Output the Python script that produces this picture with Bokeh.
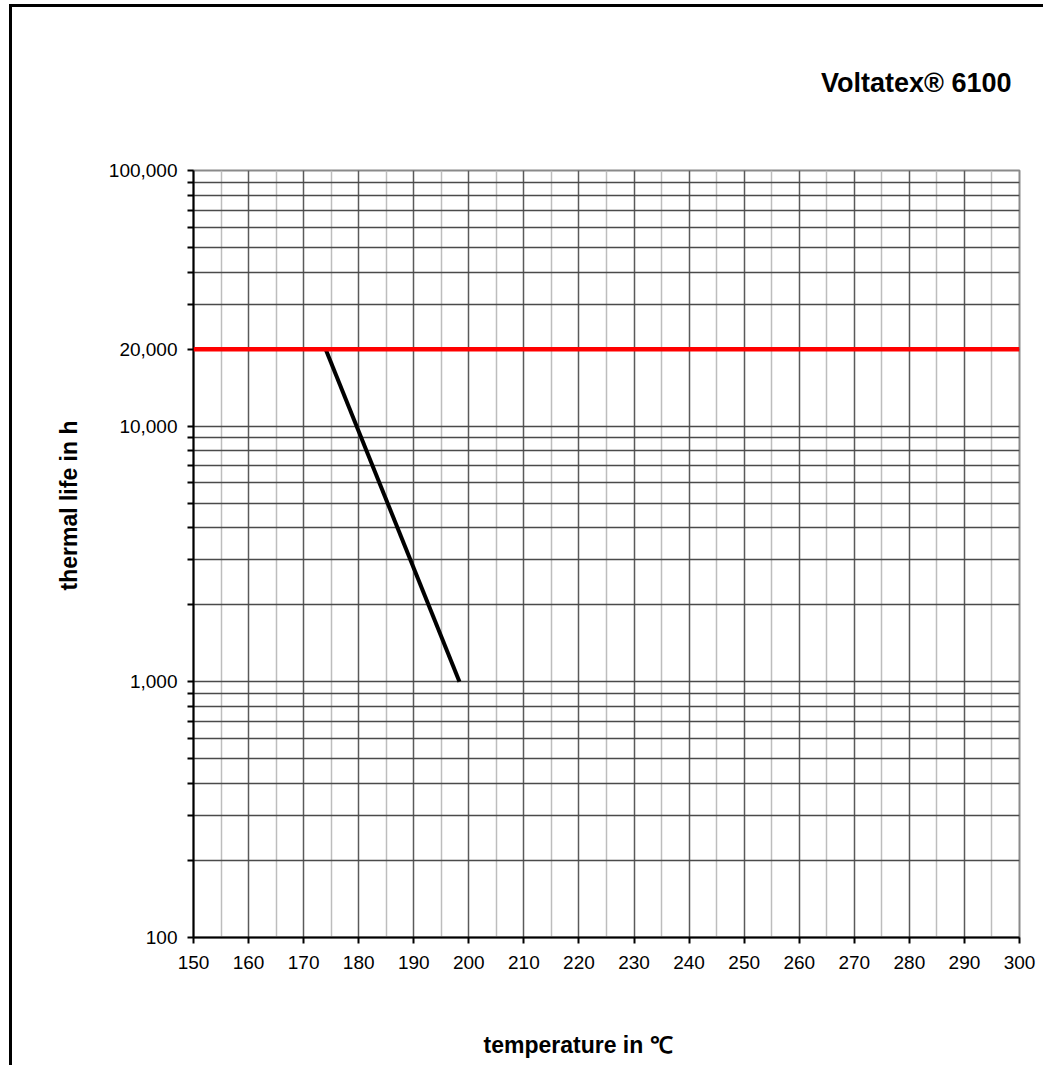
import math
from bokeh.plotting import figure
from bokeh.models import Range1d, FixedTicker, CustomJSTickFormatter, Span, Title
from bokeh.embed import file_html
from bokeh.resources import INLINE

# ---- data ----
temperature = [174.0, 198.3]          # degC
thermal_life = [20000, 1000]          # h
threshold_life = 20000                # h (red reference line)
x_ticks = list(range(150, 301, 10))
x_minor = list(range(155, 300, 10))
y_grid = [m * 10 ** e for e in (2, 3, 4) for m in range(1, 10)] + [100000]
y_label_vals = [100, 1000, 10000, 20000, 100000]
y_label_text = ["100", "1,000", "10,000", "20,000", "100,000"]

# ---- geometry (page px) ----
ML, MT, BORDER = 9, 4, 3
FL, FT, FW, FH = 193, 170, 826, 767
X0, X1, Y0, Y1 = 150, 300, 100, 100000
FONT = "Liberation Sans"

p = figure(
    x_range=Range1d(X0, X1), y_range=Range1d(Y0, Y1), y_axis_type="log",
    frame_width=FW, frame_height=FH,
    output_backend="svg", toolbar_location=None,
)
p.min_border_left = FL - ML - BORDER
p.min_border_top = FT - MT - BORDER
p.min_border_right = 24
p.min_border_bottom = 128
p.styles = {
    "margin-left": f"{ML}px", "margin-top": f"{MT}px",
    "border-left": f"{BORDER}px solid black", "border-top": f"{BORDER}px solid black",
}
p.background_fill_color = "white"
p.border_fill_color = "white"
p.outline_line_color = "#8a8a8a"
p.outline_line_width = 2

# grids
p.xgrid.ticker = FixedTicker(ticks=x_ticks, minor_ticks=x_minor)
p.xgrid.grid_line_color = "#5a5a5a"
p.xgrid.grid_line_width = 1.5
p.xgrid.minor_grid_line_color = "#bdbdbd"
p.xgrid.minor_grid_line_width = 1.5
p.ygrid.ticker = FixedTicker(ticks=y_grid)
p.ygrid.grid_line_color = "#4a4a4a"
p.ygrid.grid_line_width = 1.5

# axes
for ax in (p.xaxis[0], p.yaxis[0]):
    ax.axis_line_color = "black"
    ax.axis_line_width = 2
    ax.major_tick_line_color = "black"
    ax.major_tick_line_width = 2
    ax.major_tick_out = 6
    ax.major_tick_in = 0
    ax.minor_tick_out = 0
    ax.minor_tick_in = 0
    ax.minor_tick_line_color = None
    ax.major_label_text_font = FONT
    ax.major_label_text_font_size = "19px"
    ax.major_label_text_color = "black"

p.xaxis.ticker = FixedTicker(ticks=x_ticks)
p.xaxis.major_label_standoff = 12
p.yaxis.ticker = FixedTicker(ticks=y_grid)
p.yaxis.major_label_standoff = 10
p.yaxis.formatter = CustomJSTickFormatter(
    args=dict(vals=y_label_vals, labs=y_label_text),
    code="""
const k = Math.round(tick);
for (let i = 0; i < vals.length; i++) { if (Math.abs(vals[i] - k) < 1) return labs[i]; }
return '';
""")

# data lines
p.line(temperature, thermal_life, line_color="black", line_width=4)
p.add_layout(Span(location=threshold_life, dimension="width", line_color="#ff0000", line_width=4.5))

def spacer(side, gap):
    # invisible title that only reserves space between the frame and a text title
    p.add_layout(Title(text="\u200b", standoff=gap, text_font_size="1px",
                       text_color="white"), side)

# chart title
spacer("above", 70)
p.add_layout(Title(text="Voltatex® 6100", align="right", offset=8, standoff=0,
                   text_font=FONT, text_font_style="bold", text_font_size="27px",
                   text_color="black"), "above")

# axis titles
p.add_layout(Title(text="thermal life in h", align="left", offset=347, standoff=47,
                   text_font=FONT, text_font_style="bold", text_font_size="23px",
                   text_color="black"), "left")
spacer("below", 55)
p.add_layout(Title(text="temperature in ℃", align="left", offset=290, standoff=0,
                   text_font=FONT, text_font_style="bold", text_font_size="23px",
                   text_color="black"), "below")

open("out.html", "w").write(file_html(p, INLINE))
